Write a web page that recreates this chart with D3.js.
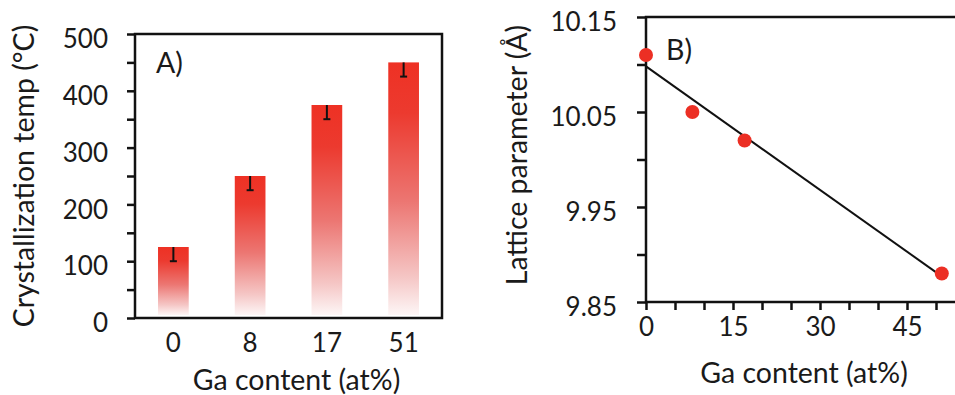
<!DOCTYPE html>
<html>
<head>
<meta charset="utf-8">
<script src="https://cdn.jsdelivr.net/npm/d3@7"></script>
<style>
  body { margin: 0; background: #fff; }
  svg { display: block; }
  .axis text { font-family: Lato, "Open Sans", sans-serif; font-size: 26px; fill: #1a1a1a; }
  .label { font-family: Lato, "Open Sans", sans-serif; font-size: 28.5px; fill: #1a1a1a; }
</style>
</head>
<body>
<div id="chart"></div>
<script>
// panel A data
const gaCategories = ["0", "8", "17", "51"];
const crystTemp = [125, 250, 375, 450];
const crystErr = [25, 25, 25, 25];
const tempTicks = [0, 100, 200, 300, 400, 500];

// panel B data
const gaContent = [0, 8, 17, 51];
const latticeParam = [10.11, 10.05, 10.02, 9.88];
const fitLine = [[0, 10.098], [51, 9.877]];
const latticeTicks = [9.85, 9.95, 10.05, 10.15];
const gaTicks = [0, 15, 30, 45];

const W = 955, H = 395;
const red = "#ec2f24";

const svg = d3.select("#chart").append("svg")
    .attr("width", W)
    .attr("height", H);

const defs = svg.append("defs");
const grad = defs.append("linearGradient")
    .attr("id", "barGrad")
    .attr("x1", 0).attr("y1", 0).attr("x2", 0).attr("y2", 1);
grad.append("stop").attr("offset", "0%").attr("stop-color", "#ee3124");
grad.append("stop").attr("offset", "20%").attr("stop-color", "#ec3a2f");
grad.append("stop").attr("offset", "55%").attr("stop-color", "#ec7672");
grad.append("stop").attr("offset", "85%").attr("stop-color", "#f5c6c5");
grad.append("stop").attr("offset", "100%").attr("stop-color", "#fdf6f6");

// ---------- A) bar chart ----------
const a = { left: 135, right: 442, top: 34, bottom: 318 };

const xA = d3.scaleBand()
    .domain(gaCategories)
    .range([a.left, a.right])
    .paddingInner(0.6)
    .paddingOuter(0.3);

const yA = d3.scaleLinear()
    .domain([0, 500])
    .range([a.bottom, a.top]);

const gA = svg.append("g");

// bars
gA.selectAll(".bar")
    .data(crystTemp)
    .join("rect")
    .attr("class", "bar")
    .attr("x", (d, i) => xA(gaCategories[i]))
    .attr("width", xA.bandwidth())
    .attr("y", d => yA(d))
    .attr("height", d => yA(0) - 3 - yA(d))
    .attr("fill", "url(#barGrad)");

// error bars (lower half only, the upper part is hidden)
const errG = gA.selectAll(".err")
    .data(crystTemp)
    .join("g")
    .attr("class", "err")
    .attr("stroke", "#111")
    .attr("stroke-width", 2);
errG.append("line")
    .attr("x1", (d, i) => xA(gaCategories[i]) + xA.bandwidth() / 2)
    .attr("x2", (d, i) => xA(gaCategories[i]) + xA.bandwidth() / 2)
    .attr("y1", d => yA(d))
    .attr("y2", (d, i) => yA(d - crystErr[i]));
errG.append("line")
    .attr("x1", (d, i) => xA(gaCategories[i]) + xA.bandwidth() / 2 - 3.5)
    .attr("x2", (d, i) => xA(gaCategories[i]) + xA.bandwidth() / 2 + 3.5)
    .attr("y1", (d, i) => yA(d - crystErr[i]))
    .attr("y2", (d, i) => yA(d - crystErr[i]));

// frame
gA.append("rect")
    .attr("x", a.left).attr("y", a.top)
    .attr("width", a.right - a.left).attr("height", a.bottom - a.top)
    .attr("fill", "none").attr("stroke", "#111").attr("stroke-width", 2.5);

// y axis
const yAxisA = gA.append("g")
    .attr("class", "axis")
    .attr("transform", `translate(${a.left},0)`)
    .call(d3.axisLeft(yA).tickValues(d3.range(0, 501, 50)).tickSize(8).tickSizeOuter(0)
        .tickFormat(d => tempTicks.includes(d) ? d : ""));
yAxisA.select(".domain").remove();
yAxisA.selectAll("line").attr("stroke", "#111").attr("stroke-width", 2.5);
yAxisA.selectAll("text").attr("x", -27).attr("dy", "0.72em").attr("y", -5);

// x axis labels
const xAxisA = gA.append("g")
    .attr("class", "axis")
    .attr("transform", `translate(0,${a.bottom})`)
    .call(d3.axisBottom(xA).tickSize(0));
xAxisA.select(".domain").remove();
xAxisA.selectAll("text").attr("y", 16);

gA.append("text").attr("class", "label")
    .attr("x", 156).attr("y", 73).text("A)");

gA.append("text").attr("class", "label")
    .attr("text-anchor", "middle")
    .attr("x", (a.left + a.right) / 2 + 8).attr("y", 390)
    .text("Ga content (at%)");

gA.append("text").attr("class", "label")
    .attr("text-anchor", "middle")
    .attr("transform", "translate(34,176) rotate(-90)")
    .text("Crystallization temp (°C)");

// ---------- B) scatter with fit ----------
const b = { left: 646, top: 17, bottom: 302 };

const xB = d3.scaleLinear()
    .domain([0, 55])
    .range([b.left, b.left + 55 * 5.8]);

const yB = d3.scaleLinear()
    .domain([9.85, 10.15])
    .range([b.bottom, b.top]);

const gB = svg.append("g");

// frame (right side runs off the picture)
gB.append("rect")
    .attr("x", b.left).attr("y", b.top)
    .attr("width", xB(55) - b.left).attr("height", b.bottom - b.top)
    .attr("fill", "none").attr("stroke", "#111").attr("stroke-width", 2.5);

const yAxisB = gB.append("g")
    .attr("class", "axis")
    .attr("transform", `translate(${b.left},0)`)
    .call(d3.axisLeft(yB).tickValues(d3.range(0, 7).map(i => 9.85 + i * 0.05)).tickSize(9).tickSizeOuter(0)
        .tickFormat(d => latticeTicks.some(t => Math.abs(t - d) < 1e-6) ? d3.format(".2f")(d) : ""));
yAxisB.select(".domain").remove();
yAxisB.selectAll("line").attr("stroke", "#111").attr("stroke-width", 2.5);
yAxisB.selectAll("text").attr("x", -29).attr("dy", "0.72em").attr("y", -5);

const xAxisB = gB.append("g")
    .attr("class", "axis")
    .attr("transform", `translate(0,${b.bottom})`)
    .call(d3.axisBottom(xB).tickValues(d3.range(0, 56, 5)).tickSize(8).tickSizeOuter(0)
        .tickFormat(d => gaTicks.includes(d) ? d : ""));
xAxisB.select(".domain").remove();
xAxisB.selectAll("line").attr("stroke", "#111").attr("stroke-width", 2.5);
xAxisB.selectAll("text").attr("y", 16);

// fit line
gB.append("path")
    .datum(fitLine)
    .attr("d", d3.line().x(d => xB(d[0])).y(d => yB(d[1])))
    .attr("stroke", "#111").attr("stroke-width", 2).attr("fill", "none");

// points
gB.selectAll(".pt")
    .data(gaContent)
    .join("circle")
    .attr("class", "pt")
    .attr("cx", d => xB(d))
    .attr("cy", (d, i) => yB(latticeParam[i]))
    .attr("r", 7)
    .attr("fill", red);

gB.append("text").attr("class", "label")
    .attr("x", 666).attr("y", 60).text("B)");

gB.append("text").attr("class", "label")
    .attr("text-anchor", "middle")
    .attr("x", 804).attr("y", 383)
    .text("Ga content (at%)");

gB.append("text").attr("class", "label")
    .attr("text-anchor", "middle")
    .attr("transform", "translate(527,155) rotate(-90)")
    .text("Lattice parameter (Å)");
</script>
</body>
</html>
